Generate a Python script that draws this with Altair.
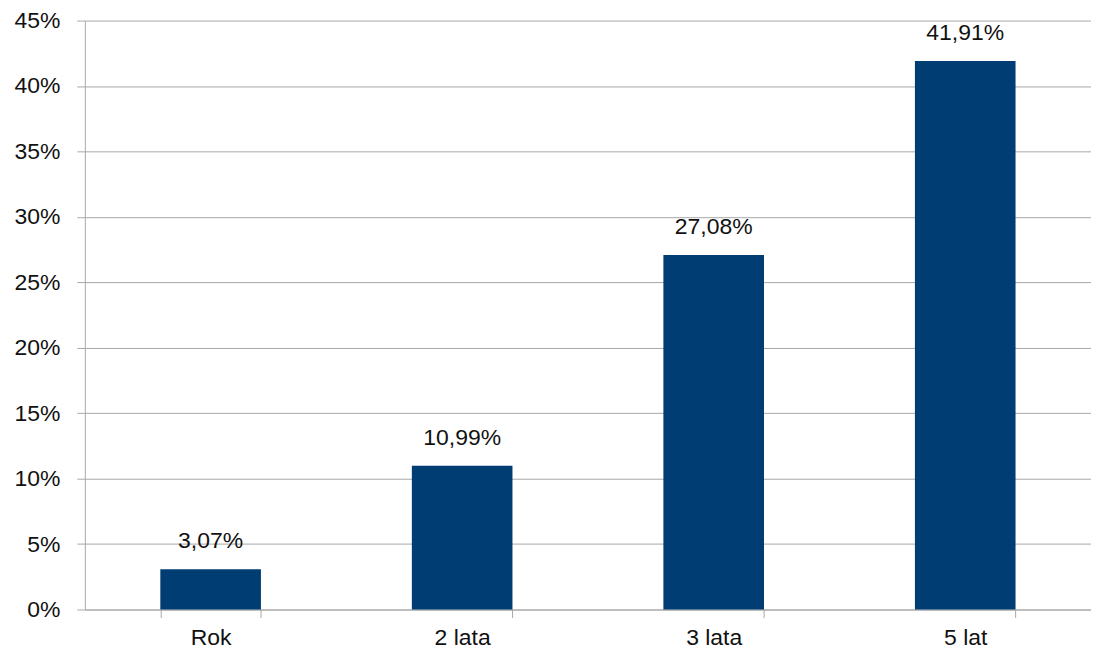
import altair as alt
import pandas as pd

categories = ["Rok", "2 lata", "3 lata", "5 lat"]
values = [3.07, 10.99, 27.08, 41.91]
labels = [f"{v:.2f}".replace(".", ",") + "%" for v in values]

df = pd.DataFrame({"cat": categories, "val": values, "lab": labels})

FONT = "Liberation Sans"
GRID = "#a8a8a8"
TXT = "#111111"

x = alt.X("cat:N", sort=categories, title=None,
          scale=alt.Scale(paddingInner=0.6, paddingOuter=0.3),
          axis=alt.Axis(labelAngle=0, labelFontSize=23, labelFont=FONT, labelColor=TXT,
                        labelPadding=9, tickBand="extent", tickSize=8, tickColor=GRID,
                        domainColor=GRID, grid=False))
y = alt.Y("val:Q", title=None,
          scale=alt.Scale(domain=[0, 45], nice=False),
          axis=alt.Axis(values=list(range(0, 46, 5)), labelExpr="datum.value + '%'",
                        labelFontSize=23, labelFont=FONT, labelColor=TXT,
                        labelPadding=17, tickSize=8, tickColor=GRID, gridColor=GRID,
                        domainColor=GRID, gridWidth=1))

bars = alt.Chart(df).mark_bar(color="#003d73").encode(x=x, y=y)
text = alt.Chart(df).mark_text(fontSize=23, font=FONT, color=TXT, dy=-28).encode(
    x=alt.X("cat:N", sort=categories), y="val:Q", text="lab:N")

chart = (bars + text).properties(
    width=1008, height=590,
    autosize=alt.AutoSizeParams(type="none"),
    padding={"left": 77, "top": 12, "right": 0, "bottom": 45},
).configure_view(stroke=None).configure_axis(domainWidth=1, tickWidth=1)

chart.save("out.html", embed_options={"renderer": "svg", "actions": False})
